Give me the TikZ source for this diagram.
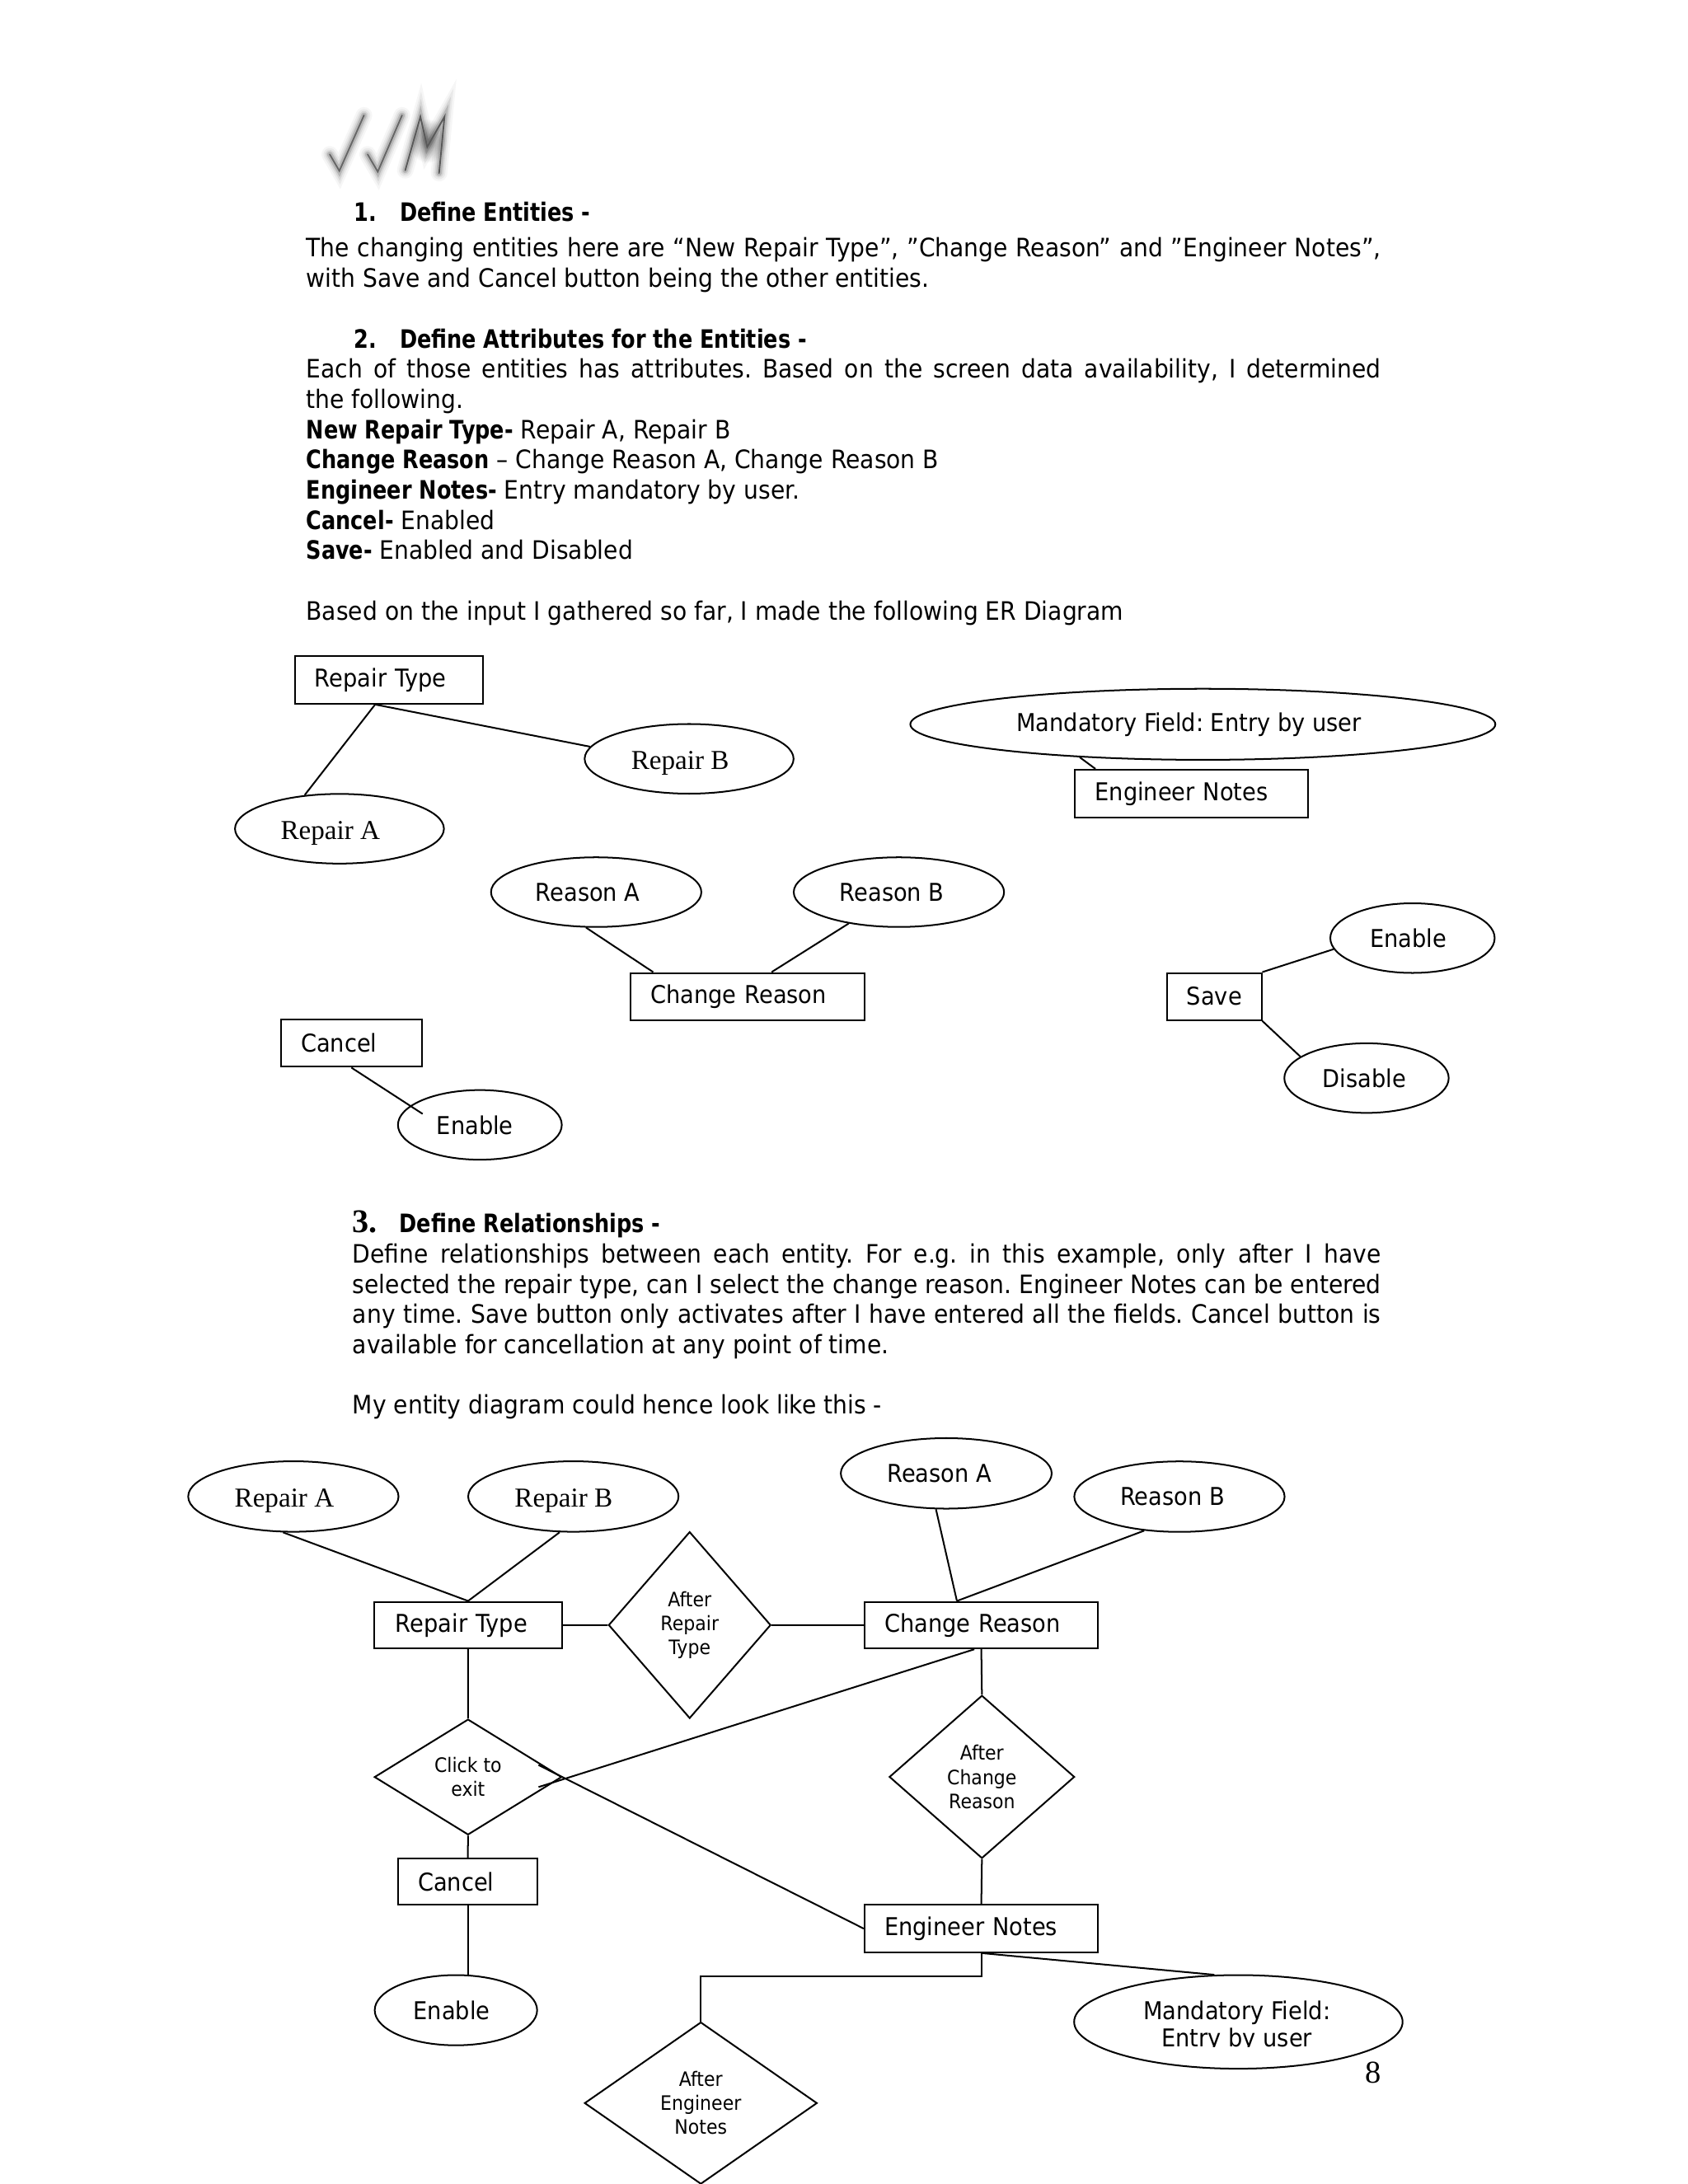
\documentclass[tikz,border=0pt]{standalone}
\usepackage{fontspec}
\setmainfont{DejaVu Sans}[FakeStretch=0.915]
\newfontface\bfam{DejaVu Sans Bold}[FakeStretch=0.83]
\newfontfamily\serifff{Liberation Serif}
\usetikzlibrary{shapes.geometric,calc}
\newlength\fu
\setlength\fu{0.5051pt}
\newcommand\tsh[1]{\hspace*{#1\fu}}
\frenchspacing
\begin{document}
\frenchspacing
\begin{tikzpicture}[x=0.5051pt,y=-0.5051pt,
 bodytext/.style={anchor=base west,inner sep=0pt,font=\fontsize{9.2}{11}\selectfont},
 ebox/.style={draw,line width=0.6pt,rectangle,inner sep=0pt,align=left,font=\fontsize{8.9}{11}\selectfont},
 attr/.style={draw,line width=0.6pt,ellipse,inner sep=0pt,font=\fontsize{8.9}{11}\selectfont},
 sattr/.style={attr,font=\serifff\fontsize{9.9}{11}\selectfont,text height=8.4pt,text depth=0.8pt},
 rel/.style={draw,line width=0.6pt,diamond,inner sep=0pt,align=center,font=\fontsize{7.2}{8.7}\selectfont},
 conn/.style={line width=0.6pt},
 logostroke/.style={line join=miter,line cap=round}]
\useasboundingbox (0,0) rectangle (1211.7,1568);
\fill[white] (0,0) rectangle (1211.7,1568);

% ---------- logo ----------
\shade[inner color=black!40,outer color=white] (307,101) ellipse (14 and 16);
\foreach \lw/\op in {6/0.035,4.5/0.05,3.2/0.08,2/0.14}{
  \draw[logostroke,black,opacity=\op,line width=\lw pt] (236.7,110.8) -- (243.6,122.7) -- (261.3,82.8);
  \draw[logostroke,black,opacity=\op,line width=\lw pt] (263.9,110.8) -- (271.2,123.3) -- (288.6,82.8);
  \draw[logostroke,black,opacity=\op,line width=\lw pt] (290.9,122.3) -- (301.8,83.8) -- (306.7,105.5) -- (319.1,83.8) -- (315.2,124.3);
}
\draw[logostroke,black!60,line width=0.55pt] (236.7,110.8) -- (243.6,122.7) -- (261.3,82.8);
\draw[logostroke,black!60,line width=0.55pt] (263.9,110.8) -- (271.2,123.3) -- (288.6,82.8);
\draw[logostroke,black!65,line width=0.55pt] (290.9,122.3) -- (301.8,83.8) -- (306.7,105.5) -- (319.1,83.8) -- (315.2,124.3);

% ---------- text ----------
\node[bodytext] (h1n) at (254,159) {\bfam 1.};
\node[bodytext] (h1) at (286.6,159) {\bfam Define Entities -};
\node[bodytext] (p1a) at (219.5,184.6) {\makebox[771.5\fu][s]{The changing entities here are “New Repair Type”, "Change Reason” and "Engineer Notes”,}};
\node[bodytext] (p1b) at (219.5,206.3) {with Save and Cancel button being the other entities.};
\node[bodytext] (h2n) at (254,249.7) {\bfam 2.};
\node[bodytext] (h2) at (286.6,249.7) {\bfam Define Attributes for the Entities -};
\node[bodytext] (p2a) at (219.5,271.4) {\makebox[771.5\fu][s]{Each of those entities has attributes. Based on the screen data availability, I determined}};
\node[bodytext] (p2b) at (219.5,293.1) {the following.};
\node[bodytext] (p2c) at (219.5,314.8) {{\bfam New Repair Type-} Repair A, Repair B};
\node[bodytext] (p2d) at (219.5,336.5) {{\bfam Change Reason} – Change Reason A, Change Reason B};
\node[bodytext] (p2e) at (219.5,358.2) {{\bfam Engineer Notes-} Entry mandatory by user.};
\node[bodytext] (p2f) at (219.5,379.9) {{\bfam Cancel-} Enabled};
\node[bodytext] (p2g) at (219.5,401.6) {{\bfam Save-} Enabled and Disabled};
\node[bodytext] (p2h) at (219.5,445) {Based on the input I gathered so far, I made the following ER Diagram};

\node[bodytext] (h3n) at (252.8,885) {\serifff\fontsize{12}{14}\selectfont\bfseries 3.};
\node[bodytext] (h3) at (286.3,885) {\bfam Define Relationships -};
\node[bodytext] (p3a) at (252.8,906.7) {\makebox[738.2\fu][s]{Define relationships between each entity. For e.g. in this example, only after I have}};
\node[bodytext] (p3b) at (252.8,928.4) {\makebox[738.2\fu][s]{selected the repair type, can I select the change reason. Engineer Notes can be entered}};
\node[bodytext] (p3c) at (252.8,950.1) {\makebox[738.2\fu][s]{any time. Save button only activates after I have entered all the fields. Cancel button is}};
\node[bodytext] (p3d) at (252.8,971.8) {available for cancellation at any point of time.};
\node[bodytext] (p3e) at (252.8,1015.2) {My entity diagram could hence look like this -};

\node[anchor=base,inner sep=0pt,font=\serifff\fontsize{11.5}{13}\selectfont] (pg) at (986,1495.5) {8};

% ---------- diagram 1 ----------
\node[ebox,text width=134.6\fu,minimum height=34.2\fu] (rt1) at (279.3,488.1) {\tsh{14}Repair Type};
\node[sattr,minimum width=150\fu,minimum height=50\fu] (rB1) at (494.7,544.8) {\tsh{-13}Repair B};
\node[sattr,minimum width=150\fu,minimum height=50\fu] (rA1) at (243.7,595) {\tsh{-13}Repair A};
\node[attr,minimum width=420\fu,minimum height=51\fu] (mand1) at (863.5,520) {\tsh{-20}Mandatory Field: Entry by user};
\node[ebox,text width=167.4\fu,minimum height=34.4\fu] (en1) at (855.3,569.8) {\tsh{14.5}Engineer Notes};
\node[attr,minimum width=151\fu,minimum height=50\fu] (reA1) at (428,640.5) {\tsh{-12}Reason A};
\node[attr,minimum width=151\fu,minimum height=50\fu] (reB1) at (645.3,640.5) {\tsh{-10}Reason B};
\node[ebox,text width=167.6\fu,minimum height=33.9\fu] (cr1) at (536.6,715.45) {\tsh{14.2}Change Reason};
\node[ebox,text width=67.6\fu,minimum height=33.9\fu] (save1) at (871.8,715.45) {\tsh{14}Save};
\node[attr,minimum width=118\fu,minimum height=50\fu] (ens1) at (1014,673.5) {\tsh{-6}Enable};
\node[attr,minimum width=118\fu,minimum height=50\fu] (dis1) at (981,774) {\tsh{-3}Disable};
\node[ebox,text width=101.1\fu,minimum height=34.1\fu] (can1) at (252.25,748.85) {\tsh{14.3}Cancel};
\node[attr,minimum width=117.6\fu,minimum height=50\fu] (enc1) at (344.5,807.6) {\tsh{-7}Enable};

\coordinate (rt1b) at ($(rt1.south)+(-10,0)$);
\draw[conn] (rt1b) -- (rA1.136);
\draw[conn] (rt1b) -- (rB1.173);
\coordinate (en1t) at ($(en1.north west)+(15.4,0)$);
\draw[conn] (mand1.-165.3) -- (en1t);
\coordinate (cr1a) at ($(cr1.north west)+(16.7,0)$);
\coordinate (cr1b) at ($(cr1.north west)+(101.7,0)$);
\draw[conn] (reA1.-106.7) -- (cr1a);
\draw[conn] (reB1.-148.6) -- (cr1b);
\draw[conn] (save1.north east) -- (ens1.-172);
\draw[conn] (save1.south east) -- (dis1.162.8);
\coordinate (enc1in) at ($(enc1.center)+(-41.1,-7.9)$);
\draw[conn] (can1.south) -- (enc1in);

% ---------- diagram 2 ----------
\node[sattr,minimum width=151\fu,minimum height=50.6\fu] (rA2) at (210.6,1074.4) {\tsh{-13}Repair A};
\node[sattr,minimum width=151\fu,minimum height=50.6\fu] (rB2) at (411.6,1074.4) {\tsh{-14}Repair B};
\node[attr,minimum width=151.4\fu,minimum height=50.6\fu] (reA2) at (679.3,1057.8) {\tsh{-10}Reason A};
\node[attr,minimum width=151\fu,minimum height=50.6\fu] (reB2) at (846.7,1074.5) {\tsh{-10}Reason B};
\node[ebox,text width=134.5\fu,minimum height=33.5\fu] (rt2) at (336.05,1166.75) {\tsh{15.2}Repair Type};
\node[ebox,text width=167.7\fu,minimum height=33.5\fu] (cr2) at (704.45,1166.75) {\tsh{14.4}Change Reason};
\node[rel,minimum width=116.5\fu,minimum height=134\fu] (d1) at (495.1,1166.7) {After\\Repair\\Type};
\node[rel,minimum width=134.5\fu,minimum height=83\fu] (d2) at (336,1275.8) {Click to\\exit};
\node[rel,minimum width=133\fu,minimum height=117\fu] (d3) at (704.9,1275.7) {After\\Change\\Reason};
\node[ebox,text width=99.7\fu,minimum height=33.4\fu] (can2) at (335.85,1350.9) {\tsh{14}Cancel};
\node[attr,minimum width=116.6\fu,minimum height=50.4\fu] (enb2) at (327.3,1443.2) {\tsh{-6}Enable};
\node[ebox,text width=167.7\fu,minimum height=34\fu] (en2) at (704.45,1384.6) {\tsh{14.4}Engineer Notes};
\node[rel,minimum width=167\fu,minimum height=116.3\fu] (d4) at (503.1,1509.9) {After\\Engineer\\Notes};
\node[attr,minimum width=235.8\fu,minimum height=67.2\fu] (mand2) at (889,1451.6) {};
\begin{scope}
  \clip (790,1420) rectangle (990,1469.6);
  \node[anchor=base,inner sep=0pt,align=center,font=\fontsize{8.9}{9.8}\selectfont] (mand2t) at (888,1469.4) {Mandatory Field:\\Entry by user};
\end{scope}

\draw[conn] (rA2.-106.8) -- (rt2.north);
\draw[conn] (rB2.-111) -- (rt2.north);
\coordinate (cr2t) at ($(cr2.north)+(-17.5,0)$);
\draw[conn] (reA2.-106.8) -- (cr2t);
\draw[conn] (reB2.-136.6) -- (cr2t);
\draw[conn] (rt2.east) -- (d1.west);
\draw[conn] (d1.east) -- (cr2.west);
\draw[conn] (rt2.south) -- (d2.north);
\draw[conn] (d2.south) -- (can2.north);
\draw[conn] (can2.south) -- (can2.south |- enb2.north);
\draw[conn] (cr2.south) -- (d3.north);
\draw[conn] (d3.south) -- (en2.north);
\coordinate (x1) at (386.6,1283);
\coordinate (x2) at (386.6,1267.2);
\draw[conn] ($(cr2.south)+(-5,0)$) -- (x1);
\draw[conn] (x2) -- (en2.west);
\draw[conn] (en2.south) -- ++(0,16.4) -| (d4.north);
\draw[conn] (en2.south) -- (mand2.117);
\end{tikzpicture}
\end{document}
